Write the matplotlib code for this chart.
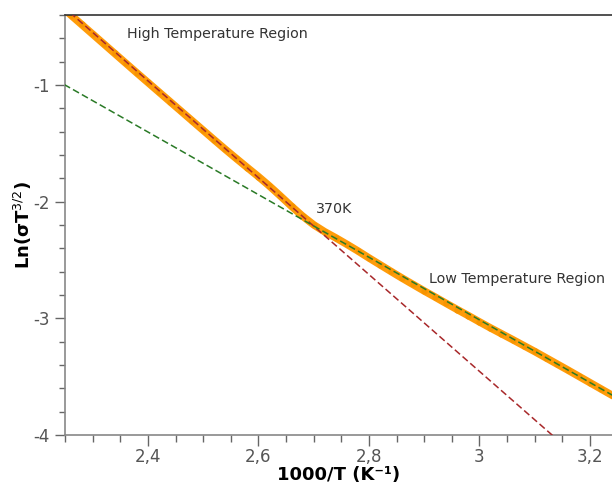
import numpy as np
import matplotlib
matplotlib.use("Agg")
import matplotlib.pyplot as plt
from matplotlib.ticker import MultipleLocator, FuncFormatter

# measured data: 1000/T and Ln(sigma T^3/2)
inv_T = [2.24, 2.26, 2.28, 2.30, 2.32, 2.34, 2.36, 2.38, 2.40, 2.42,
         2.44, 2.46, 2.48, 2.50, 2.52, 2.54, 2.56, 2.58, 2.60, 2.62,
         2.64, 2.66, 2.68, 2.70, 2.72, 2.74, 2.76, 2.78, 2.80, 2.82,
         2.84, 2.86, 2.88, 2.90, 2.92, 2.94, 2.96, 2.98, 3.00, 3.02,
         3.04, 3.06, 3.08, 3.10, 3.12, 3.14, 3.16, 3.18, 3.20, 3.22,
         3.24, 3.26]
ln_sigma = [-0.315, -0.398, -0.481, -0.564, -0.647, -0.730, -0.813, -0.896, -0.978, -1.060,
            -1.142, -1.224, -1.306, -1.388, -1.470, -1.551, -1.630, -1.708, -1.785, -1.866,
            -1.952, -2.040, -2.124, -2.198, -2.258, -2.310, -2.365, -2.422, -2.482, -2.540,
            -2.598, -2.655, -2.710, -2.765, -2.818, -2.872, -2.925, -2.977, -3.030, -3.082,
            -3.132, -3.182, -3.233, -3.284, -3.337, -3.390, -3.443, -3.497, -3.551, -3.605,
            -3.659, -3.713]

# linear fits: y = intercept + slope * x
high_fit = (8.996, -4.15)
low_fit = (5.039, -2.684)

x_ticks = [2.4, 2.6, 2.8, 3.0, 3.2]
y_ticks = [-1, -2, -3, -4]

fig = plt.figure(figsize=(6.12, 4.83), dpi=100)
ax = fig.add_axes([65/612, 48/483, 1 - 65/612, 420/483])

ax.plot(inv_T, ln_sigma, color="#ff9c0a", lw=5.4, solid_capstyle="round",
        solid_joinstyle="round", zorder=2)
ax.plot(inv_T, ln_sigma, ls="none", marker="o", ms=4.5, mec="none",
        mfc="#f79400", zorder=2)

xl = np.array([2.2, 3.3])
ax.plot(xl, high_fit[0] + high_fit[1] * xl, color="#a8282a", lw=1.1,
        ls=(0, (4.5, 2.2)), zorder=3)
ax.plot(xl, low_fit[0] + low_fit[1] * xl, color="#2a7a26", lw=1.1,
        ls=(0, (4.5, 2.2)), zorder=3)

ax.set_xlim(2.25, 3.24)
ax.set_ylim(-4, -0.4)

ax.set_xticks(x_ticks)
ax.set_yticks(y_ticks)
ax.xaxis.set_minor_locator(MultipleLocator(0.05))
ax.yaxis.set_minor_locator(MultipleLocator(0.2))
fmt = FuncFormatter(lambda v, p: f"{v:g}".replace(".", ",").replace("\u2212", "-"))
ax.xaxis.set_major_formatter(fmt)
ax.yaxis.set_major_formatter(fmt)

ax.tick_params(which="major", length=7, width=1, color="#666666",
               labelsize=12, labelcolor="#555555", pad=4, direction="out")
ax.tick_params(which="minor", length=4, width=1, color="#666666", direction="out")
ax.tick_params(axis="x", which="major", length=8, pad=1.5)
ax.tick_params(axis="x", which="minor", length=5)

for s in ["left", "bottom"]:
    ax.spines[s].set_color("#888888")
    ax.spines[s].set_linewidth(1.2)
ax.spines["top"].set_color("#333333")
ax.spines["top"].set_linewidth(1.2)
ax.spines["right"].set_visible(False)

ax.set_xlabel("1000/T (K\u207b\u00b9)", fontsize=13, fontweight="bold", va="center")
ax.xaxis.set_label_coords(0.5, -40.5/420)
ax.set_ylabel("Ln(σT$^{3/2}$)", fontsize=13, fontweight="bold", va="center")
ax.yaxis.set_label_coords(-42/547, 0.5)

ax.text(2.363, -0.563, "High Temperature Region", fontsize=10.3, color="#333333",
        ha="left", va="center")
ax.text(2.705, -2.063, "370K", fontsize=10.3, color="#333333", ha="left", va="center")
ax.text(2.909, -2.663, "Low Temperature Region", fontsize=10.3, color="#333333",
        ha="left", va="center")

fig.savefig("out.png", dpi=100)
